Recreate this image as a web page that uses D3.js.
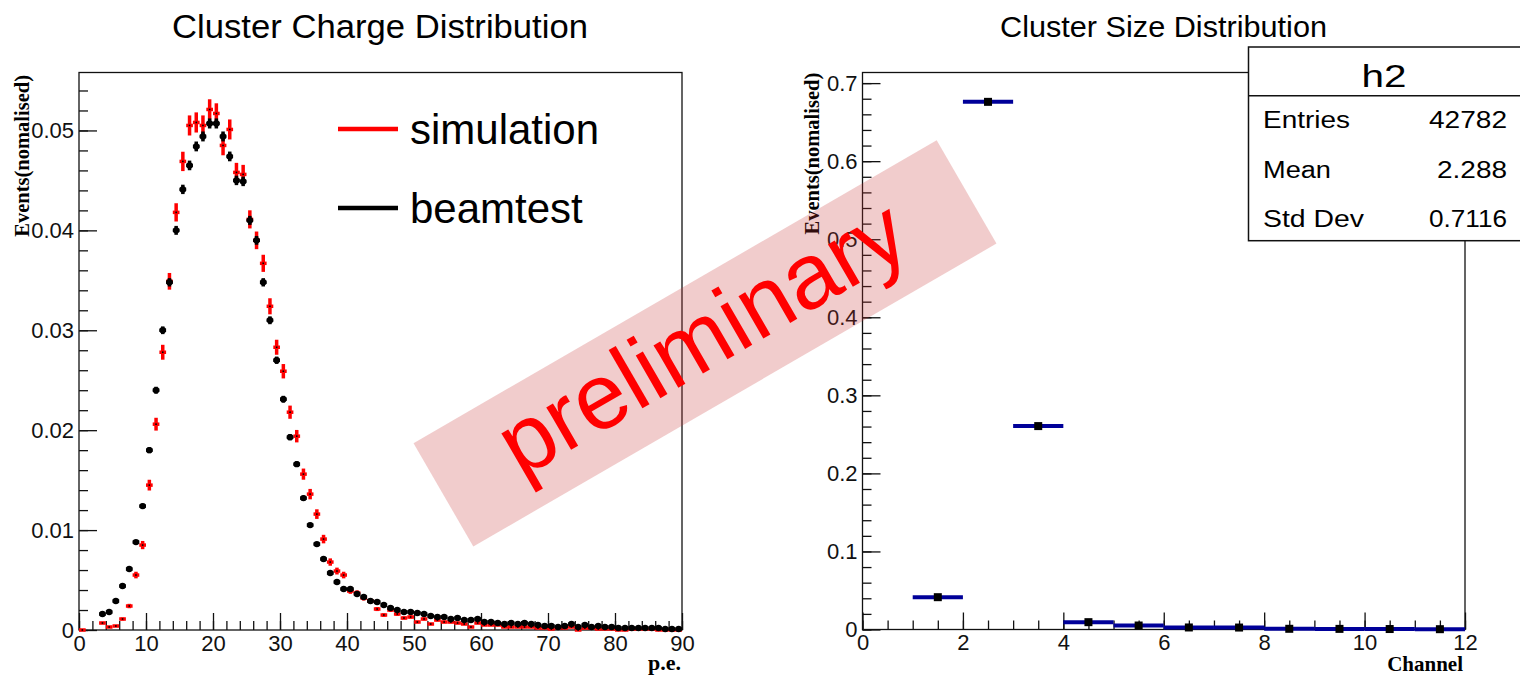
<!DOCTYPE html>
<html>
<head>
<meta charset="utf-8">
<script src="https://cdn.jsdelivr.net/npm/d3@7/dist/d3.min.js"></script>
<style>
body { margin: 0; background: #fff; }
svg { display: block; background: #fff; }
</style>
</head>
<body>
<svg width="1520" height="676"></svg>
<script>
// ---- data ----
// left panel: cluster charge, bins of 1 p.e. from 0 to 90 (null = bin not drawn)
const simulation = [
  0, null, null, 0.0007, 0.0003, 0.0004, 0.0011, 0.0024, 0.0055, 0.0085,
  0.0145, 0.0206, 0.0278, 0.0349, 0.0418, 0.0469, 0.0505, 0.0508, 0.0505, 0.0521,
  0.0517, 0.0485, 0.0501, 0.0458, 0.0456, 0.0411, 0.0390, 0.0367, 0.0324, 0.0283,
  0.0259, 0.0218, 0.0194, 0.0156, 0.0136, 0.0116, 0.0091, 0.0068, 0.0059, 0.0055,
  0.0039, 0.0037, 0.0032, 0.0029, 0.0021, 0.0015, 0.0020, 0.0016, 0.0012, 0.0013,
  0.0008, 0.0011, 0.0006, 0.0010, 0.0008, 0.0008, 0.0007, 0.0006, 0.0003, 0.0007,
  0.0005, 0.0005, 0.0005, 0.0003, 0.0003, 0.0003, 0.0003, 0.0003, 0.0002, 0.0002,
  0.0001, 0.0002, 0.0002, 0.0003, 0, 0.0002, 0.0002, 0.0001, 0.0001, 0.0001,
  0, 0, 0.0001, 0.0001, 0.0001, 0.0001, 0, 0, 0, 0
];
const beamtest = [
  null, null, null, 0.0016, 0.0018, 0.0029, 0.0044, 0.0061, 0.0088, 0.0124,
  0.0180, 0.0240, 0.0300, 0.0348, 0.0400, 0.0441, 0.0465, 0.0484, 0.0494, 0.0507,
  0.0507, 0.0494, 0.0474, 0.0450, 0.0449, 0.0410, 0.0390, 0.0348, 0.0310, 0.0270,
  0.0231, 0.0193, 0.0166, 0.0132, 0.0105, 0.0086, 0.0071, 0.0057, 0.0048, 0.0041,
  0.0041, 0.0036, 0.0033, 0.0029, 0.0028, 0.0025, 0.0022, 0.0020, 0.0018, 0.0018,
  0.0017, 0.0016, 0.0014, 0.0013, 0.0013, 0.0011, 0.0012, 0.0010, 0.0010, 0.0011,
  0.0008, 0.0008, 0.0007, 0.0006, 0.0007, 0.0006, 0.0007, 0.0006, 0.0005, 0.0004,
  0.0004, 0.0003, 0.0004, 0.0006, 0.0003, 0.0005, 0.0003, 0.0004, 0.0003, 0.0003,
  0.0002, 0.0002, 0.0002, 0.0002, 0.0002, 0.0002, 0.0002, 0.0001, 0.0001, 0.0001
];
// rough number of entries behind each normalised histogram (sets the error bar size)
const simEntries = 50000;
const beamEntries = 200000;

const chargeTicksX = [0, 10, 20, 30, 40, 50, 60, 70, 80, 90];
const chargeLabelsX = ['0', '10', '20', '30', '40', '50', '60', '70', '80', '90'];
const chargeTicksY = [0, 0.01, 0.02, 0.03, 0.04, 0.05];
const chargeLabelsY = ['0', '0.01', '0.02', '0.03', '0.04', '0.05'];

// right panel: cluster size, one bin per channel
const sizeBinLow = [1, 2, 3, 4, 5, 6, 7, 8, 9, 10, 11];
const sizeValues = [0.0414, 0.676, 0.2606, 0.0094, 0.0051, 0.0026, 0.0025, 0.0009, 0.0008, 0.0006, 0.0004];
const sizeTicksX = [0, 2, 4, 6, 8, 10, 12];
const sizeLabelsX = ['0', '2', '4', '6', '8', '10', '12'];
const sizeTicksY = [0, 0.1, 0.2, 0.3, 0.4, 0.5, 0.6, 0.7];
const sizeLabelsY = ['0', '0.1', '0.2', '0.3', '0.4', '0.5', '0.6', '0.7'];

const statsNames = ['Entries', 'Mean', 'Std Dev'];
const statsValues = ['42782', '2.288', '0.7116'];

const SANS = '"Liberation Sans", Arial, Helvetica, sans-serif';
const SERIF = '"Liberation Serif", "Times New Roman", serif';

const svg = d3.select('svg');

// scales
const xL = d3.scaleLinear().domain([0, 90]).range([79, 682]);
const yL = d3.scaleLinear().domain([0, 0.0558]).range([630, 72.5]);
const xR = d3.scaleLinear().domain([0, 12]).range([862.5, 1465]);
const yR = d3.scaleLinear().domain([0, 0.7136]).range([629.5, 72.5]);

// put an axis in place and give it the ROOT look
function addAxis(g, axis, tx, ty) {
    const a = g.append('g')
        .attr('transform', 'translate(' + tx + ',' + ty + ')')
        .call(axis);
    a.select('.domain').remove();
    a.attr('font-family', null).attr('font-size', null);
    a.selectAll('line').attr('stroke', '#111').attr('stroke-width', 1.3);
    a.selectAll('text')
        .attr('font-family', SANS)
        .attr('font-size', 22)
        .attr('fill', '#111');
    return a;
}

function frame(g, x, y) {
    g.append('rect')
        .attr('x', x.range()[0]).attr('y', y.range()[1])
        .attr('width', x.range()[1] - x.range()[0])
        .attr('height', y.range()[0] - y.range()[1])
        .attr('fill', 'none').attr('stroke', '#111').attr('stroke-width', 1.3);
}

// error-bar markers, one per bin [i, i+1]
function plot_points(g, values, nEntries, color, dotSize, dotColor) {
    const pts = values.map(function(v, i) { return {lo: i, v: v}; })
        .filter(function(d) { return d.v !== null; });
    const err = function(d) { return Math.sqrt(d.v / nEntries); };

    const p = g.append('g');
    p.selectAll('line.h').data(pts).enter().append('line')
        .attr('x1', function(d) { return xL(d.lo); })
        .attr('x2', function(d) { return xL(d.lo + 1); })
        .attr('y1', function(d) { return yL(d.v); })
        .attr('y2', function(d) { return yL(d.v); })
        .attr('stroke', color).attr('stroke-width', 3.5);
    p.selectAll('line.v').data(pts.filter(function(d) { return d.v > 0; })).enter().append('line')
        .attr('x1', function(d) { return xL(d.lo + 0.5); })
        .attr('x2', function(d) { return xL(d.lo + 0.5); })
        .attr('y1', function(d) { return yL(d.v - err(d)); })
        .attr('y2', function(d) { return yL(d.v + err(d)); })
        .attr('stroke', color).attr('stroke-width', 3.5);
    if (dotColor === color) {
        p.selectAll('circle').data(pts).enter().append('circle')
            .attr('cx', function(d) { return xL(d.lo + 0.5); })
            .attr('cy', function(d) { return yL(d.v); })
            .attr('r', dotSize).attr('fill', dotColor);
    } else {
        p.selectAll('rect').data(pts).enter().append('rect')
            .attr('x', function(d) { return xL(d.lo + 0.5) - dotSize / 2; })
            .attr('y', function(d) { return yL(d.v) - dotSize / 2; })
            .attr('width', dotSize).attr('height', dotSize).attr('fill', dotColor);
    }
}

function stretchedText(g, str, x, y, size, width, anchor) {
    return g.append('text')
        .attr('x', x).attr('y', y)
        .attr('font-family', SANS).attr('font-size', size)
        .attr('text-anchor', anchor)
        .attr('textLength', width).attr('lengthAdjust', 'spacingAndGlyphs')
        .attr('fill', '#000')
        .text(str);
}

// ---- left panel ----
function plot_charge() {
    const g = svg.append('g');

    stretchedText(g, 'Cluster Charge Distribution', 380, 38, 33, 416, 'middle');

    addAxis(g, d3.axisLeft(yL).tickValues(d3.range(0, 0.0559, 0.002)).tickSize(-9).tickFormat(''), xL(0), 0);
    addAxis(g, d3.axisLeft(yL).tickValues(chargeTicksY).tickSize(-18).tickPadding(5)
        .tickFormat(function(d, i) { return chargeLabelsY[i]; }), xL(0), 0);
    addAxis(g, d3.axisBottom(xL).tickValues(d3.range(0, 91, 2)).tickSize(-9).tickFormat(''), 0, yL(0));
    addAxis(g, d3.axisBottom(xL).tickValues(chargeTicksX).tickSize(-17).tickPadding(5)
        .tickFormat(function(d, i) { return chargeLabelsX[i]; }), 0, yL(0));
    frame(g, xL, yL);

    plot_points(g, simulation, simEntries, '#ff0000', 1.6, '#000');
    plot_points(g, beamtest, beamEntries, '#000', 3.2, '#000');

    // legend
    const leg = [{name: 'simulation', color: '#ff0000', y: 129}, {name: 'beamtest', color: '#000', y: 208}];
    g.selectAll('line.leg').data(leg).enter().append('line')
        .attr('x1', 338).attr('x2', 398)
        .attr('y1', function(d) { return d.y; }).attr('y2', function(d) { return d.y; })
        .attr('stroke', function(d) { return d.color; }).attr('stroke-width', 4.5);
    g.selectAll('text.leg').data(leg).enter().append('text')
        .attr('x', 410).attr('y', function(d) { return d.y + 15; })
        .attr('font-family', SANS).attr('font-size', 42).attr('fill', '#000')
        .text(function(d) { return d.name; });

    g.append('text')
        .attr('transform', 'translate(29,75) rotate(-90)')
        .attr('text-anchor', 'end')
        .attr('font-family', SERIF).attr('font-weight', 'bold').attr('font-size', 20.5)
        .text('Events(nomalised)');
    g.append('text')
        .attr('x', 681).attr('y', 670)
        .attr('text-anchor', 'end')
        .attr('font-family', SERIF).attr('font-weight', 'bold').attr('font-size', 22)
        .text('p.e.');
}

// ---- right panel ----
function plot_size() {
    const g = svg.append('g');

    stretchedText(g, 'Cluster Size Distribution', 1163.5, 37, 30, 327, 'middle');

    addAxis(g, d3.axisLeft(yR).tickValues(d3.range(0, 0.712, 0.02)).tickSize(-9).tickFormat(''), xR(0), 0);
    addAxis(g, d3.axisLeft(yR).tickValues(sizeTicksY).tickSize(-18).tickPadding(5)
        .tickFormat(function(d, i) { return sizeLabelsY[i]; }), xR(0), 0);
    addAxis(g, d3.axisBottom(xR).tickValues(d3.range(0, 12.1, 0.5)).tickSize(-9).tickFormat(''), 0, yR(0));
    addAxis(g, d3.axisBottom(xR).tickValues(sizeTicksX).tickSize(-17).tickPadding(5)
        .tickFormat(function(d, i) { return sizeLabelsX[i]; }), 0, yR(0));
    frame(g, xR, yR);

    const pts = sizeBinLow.map(function(lo, i) { return {lo: lo, v: sizeValues[i]}; });
    g.selectAll('line.bin').data(pts).enter().append('line')
        .attr('x1', function(d) { return xR(d.lo); })
        .attr('x2', function(d) { return xR(d.lo + 1); })
        .attr('y1', function(d) { return yR(d.v); })
        .attr('y2', function(d) { return yR(d.v); })
        .attr('stroke', '#000099').attr('stroke-width', 4);
    g.selectAll('rect.mk').data(pts).enter().append('rect')
        .attr('x', function(d) { return xR(d.lo + 0.5) - 4; })
        .attr('y', function(d) { return yR(d.v) - 4; })
        .attr('width', 8).attr('height', 8).attr('fill', '#000');

    g.append('text')
        .attr('transform', 'translate(819,72.7) rotate(-90)')
        .attr('text-anchor', 'end')
        .attr('font-family', SERIF).attr('font-weight', 'bold').attr('font-size', 20.5)
        .text('Events(nomalised)');
    g.append('text')
        .attr('x', 1463).attr('y', 671)
        .attr('text-anchor', 'end')
        .attr('font-family', SERIF).attr('font-weight', 'bold').attr('font-size', 21)
        .text('Channel');

    // statistics box
    const box = g.append('g');
    box.append('rect')
        .attr('x', 1248.5).attr('y', 47).attr('width', 290).attr('height', 193.7)
        .attr('fill', '#fff').attr('stroke', '#111').attr('stroke-width', 1.5);
    box.append('line')
        .attr('x1', 1248.5).attr('x2', 1520).attr('y1', 95.7).attr('y2', 95.7)
        .attr('stroke', '#111').attr('stroke-width', 1.5);
    stretchedText(box, 'h2', 1384, 87, 31, 45, 'middle');
    const nameW = [87, 68, 101];
    const valW = [78, 70, 78];
    statsNames.forEach(function(n, i) {
        const y = 128.3 + i * 49.2;
        stretchedText(box, n, 1263, y, 23.5, nameW[i], 'start');
        stretchedText(box, statsValues[i], 1507, y, 23.5, valW[i], 'end');
    });
}

// ---- "preliminary" stamp across both panels ----
function plot_stamp() {
    const g = svg.append('g')
        .attr('transform', 'translate(705,343.4) rotate(-30.07)');
    g.append('rect')
        .attr('x', -302.25).attr('y', -59.65)
        .attr('width', 604.5).attr('height', 119.3)
        .attr('fill', '#c83232').attr('fill-opacity', 0.25);
    g.append('text')
        .attr('x', 0).attr('y', 25)
        .attr('text-anchor', 'middle')
        .attr('font-family', SANS).attr('font-size', 93)
        .attr('fill', '#ff0000')
        .text('preliminary');
}

plot_charge();
plot_size();
plot_stamp();
</script>
</body>
</html>
